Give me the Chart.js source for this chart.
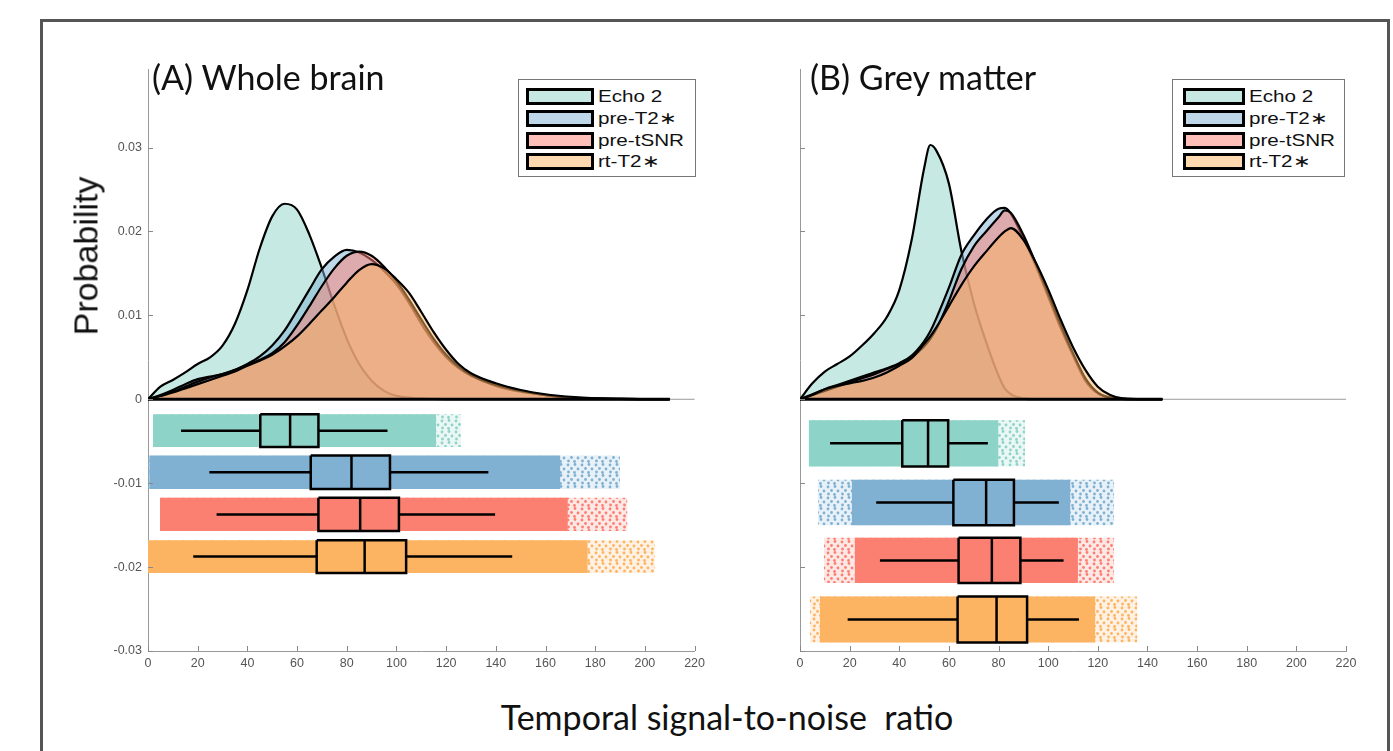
<!DOCTYPE html>
<html>
<head>
<meta charset="utf-8">
<script src="https://cdn.jsdelivr.net/npm/chart.js@4/dist/chart.umd.min.js"></script>
<style>
  html, body { margin: 0; padding: 0; background: #fff; overflow: hidden; }
  body { width: 1393px; height: 751px; position: relative; }
  .frame { position: absolute; left: 40px; top: 19px; width: 1344px; height: 800px; border: 3px solid #555; }
  .cv { position: absolute; top: 56px; width: 620px; height: 624px; }
  .title { position: absolute; top: 56px; font-family: Lato, 'Open Sans', sans-serif; font-size: 34px; color: #111; white-space: pre; }
  .ylab { position: absolute; left: 86px; top: 256px; transform: translate(-50%, -50%) rotate(-90deg); font-family: 'Liberation Sans', Arial, sans-serif; font-size: 34px; color: #111; white-space: pre; }
  .xlab { position: absolute; left: 727px; top: 696px; transform: translateX(-50%); font-family: Lato, 'Open Sans', sans-serif; font-size: 34px; color: #111; white-space: pre; }
  .legend { position: absolute; top: 79px; height: 98px; border: 1px solid #777; background: #fff; box-sizing: border-box; padding-top: 6px; }
  .legend .row { height: 21.7px; display: flex; align-items: center; font-family: 'Liberation Sans', Arial, sans-serif; font-size: 16.5px; color: #111; }
  .legend .sw { height: 11px; border: 3px solid #000; margin-right: 4px; flex: none; }
  .legend .lt { display: inline-block; transform: scaleX(1.25); transform-origin: left center; white-space: pre; }
</style>
</head>
<body>
<div class="frame"></div>
<canvas id="chartA" class="cv" width="620" height="624" style="left:90px"></canvas>
<canvas id="chartB" class="cv" width="620" height="624" style="left:742px"></canvas>
<div class="title" style="left:152px">(A) Whole brain</div>
<div class="title" style="left:810px">(B) Grey matter</div>
<div class="ylab">Probability</div>
<div class="xlab">Temporal signal-to-noise  ratio</div>
<div class="legend" id="legendA" style="left:518px; width:178px; padding-left:7px"></div>
<div class="legend" id="legendB" style="left:1172px; width:173px; padding-left:10px"></div>
<script>
const seriesNames = ['Echo 2', 'pre-T2\u2217', 'pre-tSNR', 'rt-T2\u2217'];
const seriesColors = ['141,211,199', '128,177,211', '251,128,114', '253,180,98'];

const xTicks = [0, 20, 40, 60, 80, 100, 120, 140, 160, 180, 200, 220];
const yTicks = [-0.03, -0.02, -0.01, 0, 0.01, 0.02, 0.03];

// (A) Whole brain - density curves
const aGrid = [0, 5, 10, 15, 20, 25, 30, 35, 40, 45, 50, 55, 60, 65, 70, 75, 80, 85, 90, 95, 100, 105, 110, 115, 120, 125, 130, 140, 150, 160, 170, 180, 190, 200, 210];
const aEcho = [0, 0.0015, 0.0023, 0.0032, 0.0042, 0.0050, 0.0064, 0.0090, 0.0130, 0.0180, 0.0218, 0.0233, 0.0226, 0.0196, 0.0156, 0.0112, 0.0072, 0.0042, 0.0022, 0.0010, 0.0004, 0.0002, 0.0001, 0.00005, 0.00002, 0, 0, 0, 0, 0, 0, 0, 0, 0, 0];
const aPreT2 = [0, 0.0005, 0.0011, 0.0018, 0.0024, 0.0027, 0.0030, 0.0035, 0.0042, 0.0051, 0.0064, 0.0082, 0.0106, 0.0131, 0.0155, 0.0170, 0.0178, 0.0175, 0.0166, 0.0153, 0.0137, 0.0115, 0.0090, 0.0068, 0.0050, 0.0037, 0.0028, 0.0016, 0.0009, 0.0005, 0.0002, 0.0001, 0.00005, 0.00002, 0];
const aPreTsnr = [0, 0.0004, 0.0009, 0.0015, 0.0021, 0.0026, 0.0030, 0.0035, 0.0041, 0.0047, 0.0055, 0.0068, 0.0088, 0.0111, 0.0135, 0.0156, 0.0171, 0.0176, 0.0171, 0.0158, 0.0141, 0.0119, 0.0095, 0.0072, 0.0053, 0.0039, 0.0029, 0.0017, 0.0010, 0.0005, 0.0002, 0.0001, 0.00005, 0.00002, 0];
const aRtT2 = [0, 0.0004, 0.0008, 0.0013, 0.0018, 0.0023, 0.0028, 0.0033, 0.0040, 0.0046, 0.0053, 0.0063, 0.0075, 0.0090, 0.0106, 0.0122, 0.0139, 0.0154, 0.0161, 0.0156, 0.0143, 0.0127, 0.0104, 0.0080, 0.0059, 0.0042, 0.0031, 0.0019, 0.0011, 0.0006, 0.0003, 0.00012, 0.00005, 0.00002, 0];

// (A) box plots and rain clouds, one entry per series
const aWhiskerLo = [13.3, 24.7, 27.6, 18.2];
const aQ1 = [45.2, 65.5, 68.6, 67.9];
const aMedian = [57.2, 81.9, 85.4, 87.2];
const aQ3 = [68.6, 97.4, 101.0, 103.9];
const aWhiskerHi = [96.4, 137.0, 139.7, 146.6];
const aRowTop = [-0.0018, -0.0067, -0.01175, -0.0168];
const aRowBottom = [-0.0057, -0.0107, -0.0157, -0.0207];
const aCloudLo = [2, 0.5, 4.8, 0];
const aCloudHi = [116, 166, 169, 177];
const aTailLo = [2, 0, 4.8, 0];
const aTailHi = [126, 190, 193, 204];

// (B) Grey matter - density curves
const bGrid = [0, 5, 10, 15, 20, 25, 30, 35, 40, 45, 50, 52.5, 55, 60, 65, 70, 75, 80, 82.5, 85, 90, 95, 100, 105, 110, 115, 120, 125, 130, 140, 146];
const bEcho = [0, 0.0019, 0.0033, 0.0042, 0.0051, 0.0064, 0.0079, 0.0098, 0.0130, 0.0190, 0.0275, 0.0303, 0.0296, 0.0257, 0.0177, 0.0115, 0.0068, 0.0028, 0.0013, 0.0006, 0.0001, 0, 0, 0, 0, 0, 0, 0, 0, 0, 0];
const bPreT2 = [0, 0.0006, 0.0012, 0.0017, 0.0022, 0.0027, 0.0032, 0.0037, 0.0043, 0.0052, 0.0069, 0.0081, 0.0097, 0.0133, 0.0172, 0.0195, 0.0214, 0.0227, 0.0228, 0.0221, 0.0192, 0.0159, 0.0122, 0.0085, 0.0052, 0.0022, 0.0007, 0.0002, 0.00005, 0, 0];
const bPreTsnr = [0, 0.0005, 0.0010, 0.0015, 0.0020, 0.0025, 0.0030, 0.0036, 0.0042, 0.0050, 0.0063, 0.0072, 0.0084, 0.0117, 0.0155, 0.0182, 0.0200, 0.0217, 0.0225, 0.0222, 0.0196, 0.0162, 0.0126, 0.0089, 0.0055, 0.0025, 0.0008, 0.0002, 0.00005, 0, 0];
const bRtT2 = [0, 0.0005, 0.0012, 0.0016, 0.0019, 0.0022, 0.0026, 0.0032, 0.0040, 0.0049, 0.0066, 0.0075, 0.0086, 0.0111, 0.0136, 0.0158, 0.0176, 0.0193, 0.0200, 0.0204, 0.0190, 0.0163, 0.0131, 0.0095, 0.0062, 0.0035, 0.0015, 0.0005, 0.0001, 0.00001, 0];

// (B) box plots and rain clouds
const bWhiskerLo = [12.1, 30.7, 32.2, 19.2];
const bQ1 = [41.2, 61.8, 63.9, 63.5];
const bMedian = [51.6, 75.0, 77.3, 79.2];
const bQ3 = [59.7, 86.2, 88.8, 91.5];
const bWhiskerHi = [75.7, 104.3, 106.2, 112.4];
const bRowTop = [-0.0025, -0.0096, -0.0165, -0.0235];
const bRowBottom = [-0.0080, -0.0150, -0.0219, -0.0290];
const bCloudLo = [3.5, 20.8, 22, 8];
const bCloudHi = [80, 109, 112, 119];
const bTailLo = [3.5, 7.2, 9.6, 4];
const bTailHi = [90.7, 126.6, 126.6, 136];

function rgba(c, a) { return 'rgba(' + c + ',' + a + ')'; }

// scattered-dot texture for the thin ends of each rain cloud
function dotPattern(col) {
  const c = document.createElement('canvas');
  c.width = 14; c.height = 11;
  const g = c.getContext('2d');
  g.fillStyle = rgba(col, 0.18);
  g.fillRect(0, 0, 14, 11);
  g.fillStyle = rgba(col, 1);
  [[2, 2], [9, 1.5], [5.5, 5.5], [12, 6], [2.5, 9], [8.5, 9.5]].forEach(([x, y]) => {
    g.beginPath(); g.arc(x, y, 1.4, 0, Math.PI * 2); g.fill();
  });
  return g.createPattern(c, 'repeat');
}

function line(points, opts) {
  return Object.assign({
    type: 'line', data: points, pointRadius: 0, borderWidth: 2,
    borderColor: '#000', fill: false, tension: 0
  }, opts);
}

function buildDatasets(p) {
  const ds = [];
  // densities: echo drawn first, rt-T2* on top
  p.dens.forEach((vals, i) => {
    ds.push(line(p.grid.map((x, k) => ({ x: x, y: vals[k] })), {
      order: 4 - i + 1,
      fill: 'origin',
      backgroundColor: rgba(seriesColors[i], 0.5),
      borderWidth: 2.2,
      cubicInterpolationMode: 'monotone'
    }));
  });
  // black baseline under the densities
  ds.push(line([{ x: 0, y: 0 }, { x: p.baseEnd, y: 0 }], { order: 0, borderWidth: 3 }));

  for (let i = 0; i < 4; i++) {
    const top = p.rowTop[i], bot = p.rowBottom[i], mid = (top + bot) / 2;
    const col = seriesColors[i];
    // sparse tails of the rain cloud
    ds.push(line([{ x: p.tailLo[i], y: top }, { x: p.tailHi[i], y: top }], {
      order: 20, borderWidth: 0, borderColor: 'transparent',
      fill: { value: bot }, backgroundColor: dotPattern(col)
    }));
    // dense part of the rain cloud
    ds.push(line([{ x: p.cloudLo[i], y: top }, { x: p.cloudHi[i], y: top }], {
      order: 19, borderWidth: 0, borderColor: 'transparent',
      fill: { value: bot }, backgroundColor: rgba(col, 1)
    }));
    // whisker
    ds.push(line([{ x: p.lo[i], y: mid }, { x: p.hi[i], y: mid }], { order: 18, borderWidth: 2.5 }));
    // box fill
    ds.push(line([{ x: p.q1[i], y: top }, { x: p.q3[i], y: top }], {
      order: 17, borderWidth: 0, borderColor: 'transparent',
      fill: { value: bot }, backgroundColor: rgba(col, 1)
    }));
    // box outline
    ds.push(line([
      { x: p.q1[i], y: top }, { x: p.q3[i], y: top }, { x: p.q3[i], y: bot },
      { x: p.q1[i], y: bot }, { x: p.q1[i], y: top }
    ], { order: 16, borderWidth: 2.5, borderJoinStyle: 'miter' }));
    // median
    ds.push(line([{ x: p.med[i], y: top }, { x: p.med[i], y: bot }], { order: 15, borderWidth: 2.5 }));
  }
  return ds;
}

const axisMarks = {
  id: 'axisMarks',
  beforeDatasetsDraw(chart) {
    const { ctx, chartArea, scales } = chart;
    const y0 = scales.y.getPixelForValue(0);
    ctx.save();
    ctx.strokeStyle = '#999';
    ctx.lineWidth = 1;
    ctx.beginPath();
    ctx.moveTo(chartArea.left, y0);
    ctx.lineTo(chartArea.right, y0);
    ctx.stroke();
    ctx.restore();
  },
  afterDraw(chart) {
    const { ctx, chartArea, scales } = chart;
    ctx.save();
    ctx.strokeStyle = '#888';
    ctx.lineWidth = 1;
    ctx.beginPath();
    scales.x.ticks.forEach(t => {
      const px = Math.round(scales.x.getPixelForValue(t.value)) + 0.5;
      ctx.moveTo(px, chartArea.bottom);
      ctx.lineTo(px, chartArea.bottom - 5);
    });
    scales.y.ticks.forEach(t => {
      const py = Math.round(scales.y.getPixelForValue(t.value)) + 0.5;
      ctx.moveTo(chartArea.left, py);
      ctx.lineTo(chartArea.left + 5, py);
    });
    ctx.stroke();
    ctx.restore();
  }
};

function makeChart(id, p, showYLabels, padRight) {
  new Chart(document.getElementById(id), {
    type: 'line',
    data: { datasets: buildDatasets(p) },
    options: {
      responsive: false,
      animation: false,
      parsing: true,
      layout: { padding: { top: 12, right: padRight, left: 0, bottom: 0 } },
      plugins: { legend: { display: false }, tooltip: { enabled: false } },
      scales: {
        x: {
          type: 'linear', min: 0, max: 220,
          afterBuildTicks: s => { s.ticks = xTicks.map(v => ({ value: v })); },
          afterFit: s => { s.height = 29; },
          grid: { display: false, drawTicks: false },
          border: { display: true, color: '#999', width: 1 },
          ticks: { padding: 5, color: '#555', font: { family: 'Liberation Sans', size: 12.5 }, maxRotation: 0 }
        },
        y: {
          type: 'linear', min: -0.03, max: 0.0393,
          afterBuildTicks: s => { s.ticks = yTicks.map(v => ({ value: v })); },
          afterFit: s => { s.width = 58; },
          grid: { display: false, drawTicks: false },
          border: { display: true, color: '#999', width: 1 },
          ticks: {
            padding: 6, color: '#555', font: { family: 'Liberation Sans', size: 12.5 },
            callback: v => showYLabels ? (Math.abs(v) < 1e-9 ? '0' : v.toFixed(2)) : ''
          }
        }
      }
    },
    plugins: [axisMarks]
  });
}

function makeLegend(id, swatchWidth) {
  document.getElementById(id).innerHTML = seriesNames.map((n, i) =>
    '<div class="row"><div class="sw" style="width:' + swatchWidth + 'px;background:' + rgba(seriesColors[i], 0.5) + '"></div><span class="lt">' + n + '</span></div>'
  ).join('');
}

makeChart('chartA', {
  grid: aGrid, dens: [aEcho, aPreT2, aPreTsnr, aRtT2], baseEnd: 210,
  lo: aWhiskerLo, q1: aQ1, med: aMedian, q3: aQ3, hi: aWhiskerHi,
  rowTop: aRowTop, rowBottom: aRowBottom,
  cloudLo: aCloudLo, cloudHi: aCloudHi, tailLo: aTailLo, tailHi: aTailHi
}, true, 12);

makeChart('chartB', {
  grid: bGrid, dens: [bEcho, bPreT2, bPreTsnr, bRtT2], baseEnd: 146,
  lo: bWhiskerLo, q1: bQ1, med: bMedian, q3: bQ3, hi: bWhiskerHi,
  rowTop: bRowTop, rowBottom: bRowBottom,
  cloudLo: bCloudLo, cloudHi: bCloudHi, tailLo: bTailLo, tailHi: bTailHi
}, false, 16);

makeLegend('legendA', 62);
makeLegend('legendB', 56);
</script>
</body>
</html>
